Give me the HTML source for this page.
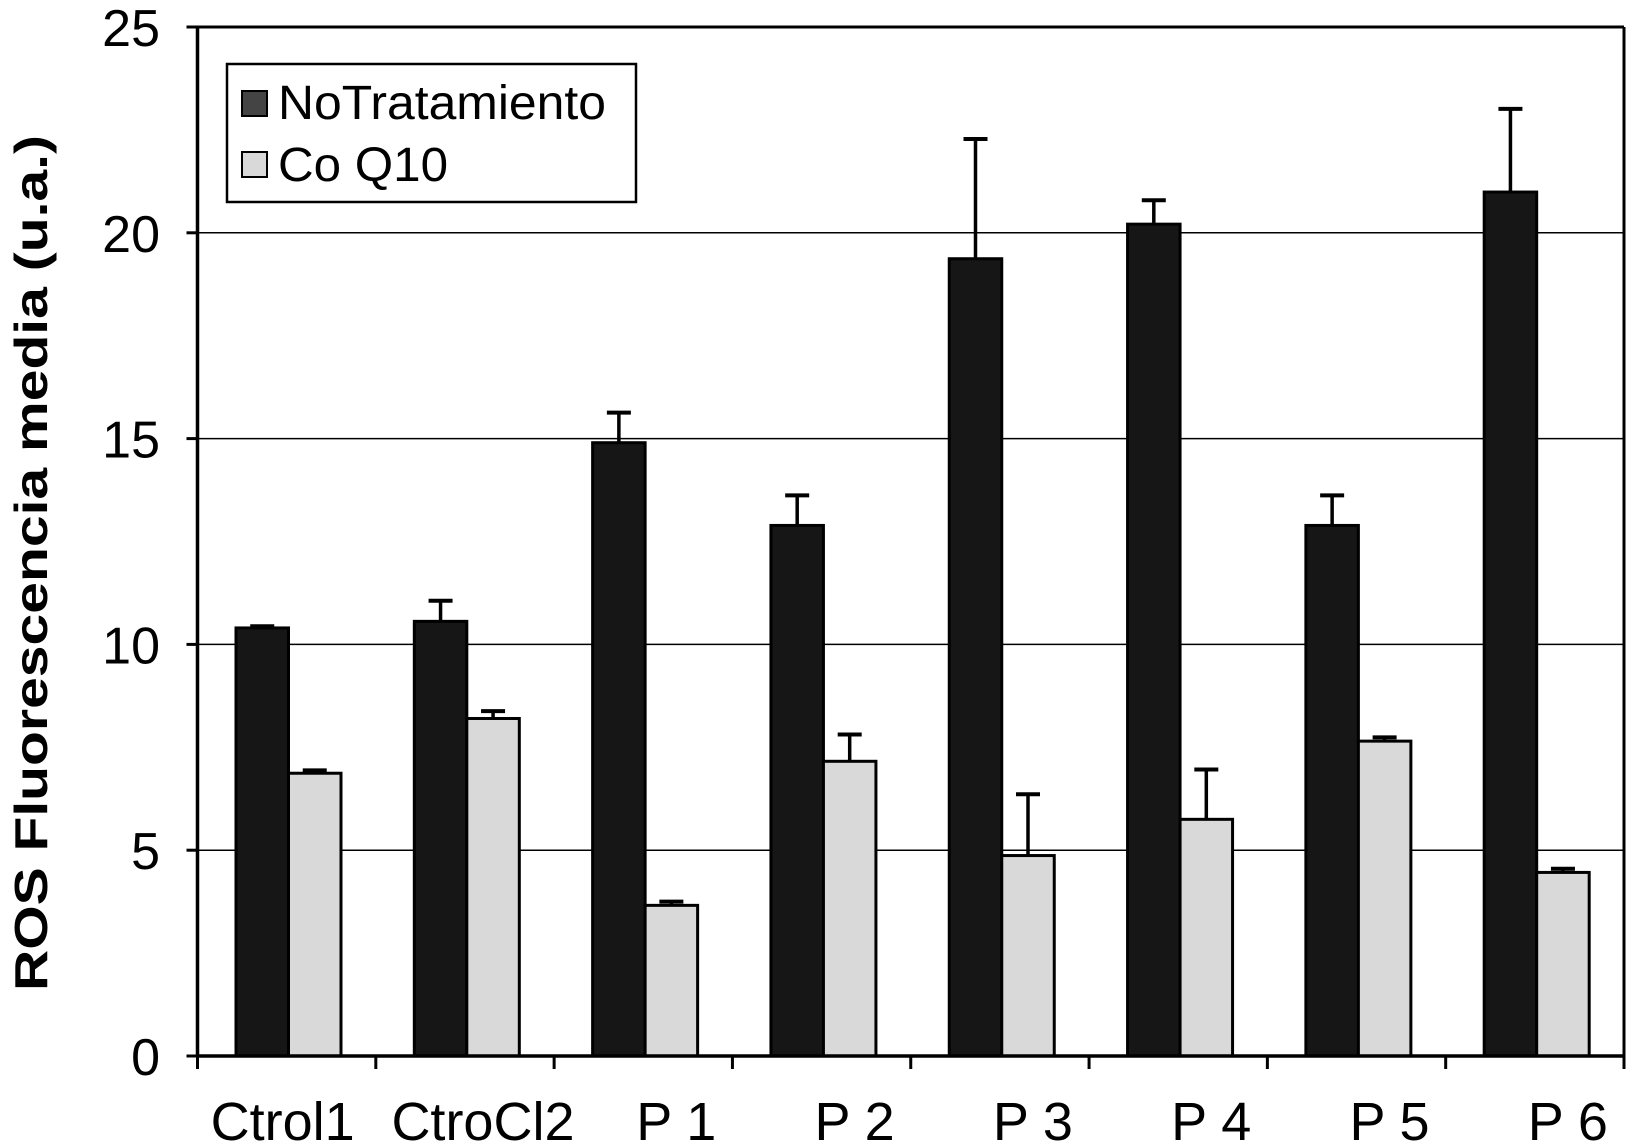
<!DOCTYPE html>
<html><head><meta charset="utf-8"><style>
html,body{margin:0;padding:0;background:#fff}
svg{display:block}
text{font-family:"Liberation Sans",sans-serif;fill:#000}
</style></head><body>
<svg id="chart" width="1630" height="1146" viewBox="0 0 1630 1146" xmlns="http://www.w3.org/2000/svg">
<g id="grid"></g><g id="bars"></g><g id="axes"></g>
<g>
<rect x="227" y="64" width="409" height="138" fill="#fff" stroke="#000" stroke-width="2.5"/>
<rect x="242" y="91" width="25" height="25" fill="#444" stroke="#000" stroke-width="2"/>
<text x="278" y="119" font-size="48" textLength="328" lengthAdjust="spacingAndGlyphs">NoTratamiento</text>
<rect x="242" y="152" width="25" height="25" fill="#d9d9d9" stroke="#000" stroke-width="2"/>
<text x="278" y="181" font-size="48" textLength="170" lengthAdjust="spacingAndGlyphs">Co Q10</text>
</g>
<text transform="translate(47,563) rotate(-90)" text-anchor="middle" font-size="46" font-weight="bold" textLength="856" lengthAdjust="spacingAndGlyphs">ROS Fluorescencia  media (u.a.)</text>
</svg>
<script>
const categories=["Ctrol1","CtroCl2","P 1","P 2","P 3","P 4","P 5","P 6"];
const noTrat=[10.40,10.56,14.90,12.89,19.37,20.21,12.89,20.99];
const noTratErr=[0.04,0.50,0.73,0.73,2.91,0.58,0.73,2.02];
const coq10=[6.87,8.20,3.66,7.16,4.87,5.75,7.65,4.46];
const coq10Err=[0.07,0.18,0.09,0.65,1.49,1.21,0.09,0.09];
const yTicks=[0,5,10,15,20,25];

const NS="http://www.w3.org/2000/svg";
const x0=197.5,x1=1624,yTop=27,yBot=1056,yMax=25;
const gw=(x1-x0)/categories.length;
const y=v=>yBot-(v/yMax)*(yBot-yTop);
const gx=i=>x0+i*gw;
function mk(tag,attrs,parent){const e=document.createElementNS(NS,tag);for(const k in attrs)e.setAttribute(k,attrs[k]);parent.appendChild(e);return e;}
const grid=document.getElementById('grid'),bars=document.getElementById('bars'),axes=document.getElementById('axes');
yTicks.forEach(t=>{
  if(t>0&&t<yMax){const l=mk('line',{x1:x0,x2:x1,y1:y(t),y2:y(t),stroke:'#000','stroke-width':1.5},grid);
  
  }
  const tk=mk('line',{x1:x0-11,x2:x0,y1:y(t),y2:y(t),stroke:'#000','stroke-width':3},axes);
  
  
  const tx=mk('text',{x:160,y:y(t)+19,'text-anchor':'end','font-size':52},axes);
  tx.textContent=t;
  
  
});
function bar(i,val,err,off,fill,name){
  const bw=52.5,bx=gx(i)+off;
  const eb=mk('g',{},bars);
  
  
  const cx=bx+bw/2;
  mk('line',{x1:cx,x2:cx,y1:y(val),y2:y(val+err),stroke:'#000','stroke-width':3.5},eb);
  mk('line',{x1:cx-12,x2:cx+12,y1:y(val+err),y2:y(val+err),stroke:'#000','stroke-width':4},eb);
  const r=mk('rect',{x:bx,y:y(val),width:bw,height:yBot-y(val),fill:fill,stroke:'#000','stroke-width':3},bars);
  
  
}
categories.forEach((c,i)=>{
  bar(i,noTrat[i],noTratErr[i],38.5,'#161616','bar-notratamiento-'+i);
  bar(i,coq10[i],coq10Err[i],91,'#d9d9d9','bar-coq10-'+i);
  const shift=i===0?-4:(i===1?18:33);
  const t=mk('text',{x:gx(i)+gw/2+shift,y:1140,'text-anchor':'middle','font-size':54},axes);
  t.textContent=c;
  
  
});
for(let i=0;i<=categories.length;i++){
  const tk=mk('line',{x1:gx(i),x2:gx(i),y1:yBot,y2:yBot+13,stroke:'#000','stroke-width':3},axes);
  
  
}
const ya=mk('line',{x1:x0,x2:x0,y1:yTop,y2:yBot,stroke:'#000','stroke-width':3.5},axes);


const xa=mk('line',{x1:x0,x2:x1,y1:yBot,y2:yBot,stroke:'#000','stroke-width':3.5},axes);


const rb=mk('line',{x1:x1,x2:x1,y1:yTop,y2:yBot,stroke:'#000','stroke-width':3},axes);


const tb=mk('line',{x1:x0,x2:x1,y1:yTop,y2:yTop,stroke:'#000','stroke-width':3},axes);


</script>
</body></html>
